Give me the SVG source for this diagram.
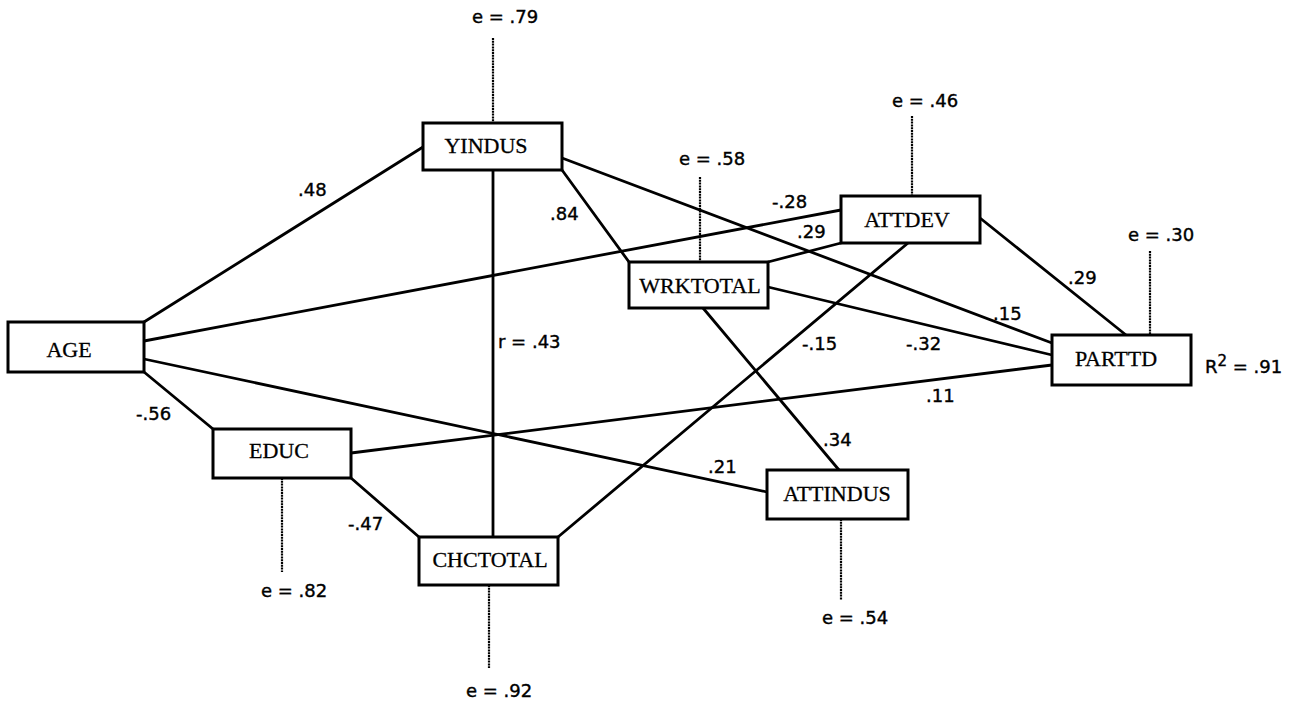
<svg xmlns="http://www.w3.org/2000/svg" width="1302" height="706" viewBox="0 0 1302 706">
<style>
.box{fill:#fff;stroke:#000;stroke-width:3}
.nl{font-family:"Liberation Serif","Times New Roman",serif;font-size:22px;text-anchor:middle;fill:#000;stroke:#000;stroke-width:0.3}
.c{stroke:#000;stroke-width:2.8;fill:none;stroke-linecap:round}
.err{stroke:#000;stroke-width:2.2;stroke-dasharray:2 0.8;fill:none}
.el{font-family:"DejaVu Sans",sans-serif;font-size:18px;fill:#000;stroke:#000;stroke-width:0.4}
</style>
<rect width="1302" height="706" fill="#fff"/>
<g id="connectors">
<line class="c" x1="144" y1="322" x2="423" y2="147"/>
<line class="c" x1="144" y1="341" x2="841" y2="210"/>
<line class="c" x1="144" y1="359" x2="767" y2="492"/>
<line class="c" x1="144" y1="372" x2="213" y2="429"/>
<line class="c" x1="351" y1="453" x2="1052" y2="365"/>
<line class="c" x1="351" y1="478" x2="419" y2="537"/>
<line class="c" x1="493" y1="170" x2="493" y2="537"/>
<line class="c" x1="562" y1="170" x2="629" y2="262"/>
<line class="c" x1="562" y1="158" x2="1052" y2="343"/>
<line class="c" x1="768" y1="262" x2="841" y2="243"/>
<line class="c" x1="768" y1="287" x2="1052" y2="355"/>
<line class="c" x1="703" y1="308" x2="839" y2="470"/>
<line class="c" x1="980" y1="218" x2="1126" y2="335"/>
<line class="c" x1="558" y1="537" x2="908" y2="243"/>
<line class="err" x1="493" y1="38" x2="493" y2="123"/>
<line class="err" x1="700" y1="177" x2="700" y2="262"/>
<line class="err" x1="912" y1="116" x2="912" y2="196"/>
<line class="err" x1="1150" y1="251" x2="1150" y2="335"/>
<line class="err" x1="282" y1="478" x2="282" y2="572"/>
<line class="err" x1="489" y1="585" x2="489" y2="668"/>
<line class="err" x1="841" y1="519" x2="841" y2="600"/>
</g>
<g id="labels">
<text class="el" x="298" y="196">.48</text>
<text class="el" x="550" y="220">.84</text>
<text class="el" x="772" y="208">-.28</text>
<text class="el" x="797" y="238">.29</text>
<text class="el" x="993" y="320">.15</text>
<text class="el" x="1068" y="284">.29</text>
<text class="el" x="802" y="350">-.15</text>
<text class="el" x="906" y="350">-.32</text>
<text class="el" x="926" y="402">.11</text>
<text class="el" x="823" y="446">.34</text>
<text class="el" x="708" y="473">.21</text>
<text class="el" x="136" y="420">-.56</text>
<text class="el" x="348" y="530">-.47</text>
<text class="el" x="498" y="348">r = .43</text>
<text class="el" x="472" y="23">e = .79</text>
<text class="el" x="679" y="165">e = .58</text>
<text class="el" x="892" y="107">e = .46</text>
<text class="el" x="1128" y="241">e = .30</text>
<text class="el" x="261" y="597">e = .82</text>
<text class="el" x="466" y="697">e = .92</text>
<text class="el" x="822" y="624">e = .54</text>
<text class="el" x="1205" y="373">R<tspan dy="-7" font-size="15">2</tspan><tspan dy="7"> = .91</tspan></text>
</g>
<g id="AGE"><rect class="box" x="8" y="322" width="136" height="50"/><text class="nl" x="69" y="357">AGE</text></g>
<g id="EDUC"><rect class="box" x="213" y="429" width="138" height="49"/><text class="nl" x="279" y="458">EDUC</text></g>
<g id="YINDUS"><rect class="box" x="423" y="123" width="139" height="47"/><text class="nl" x="486" y="153">YINDUS</text></g>
<g id="WRKTOTAL"><rect class="box" x="629" y="262" width="139" height="46"/><text class="nl" x="700" y="293">WRKTOTAL</text></g>
<g id="ATTDEV"><rect class="box" x="841" y="196" width="139" height="47"/><text class="nl" x="907" y="227">ATTDEV</text></g>
<g id="PARTTD"><rect class="box" x="1052" y="335" width="139" height="50"/><text class="nl" x="1116" y="366">PARTTD</text></g>
<g id="CHCTOTAL"><rect class="box" x="419" y="537" width="139" height="48"/><text class="nl" x="490" y="567">CHCTOTAL</text></g>
<g id="ATTINDUS"><rect class="box" x="767" y="470" width="141" height="49"/><text class="nl" x="837" y="501">ATTINDUS</text></g>
</svg>
